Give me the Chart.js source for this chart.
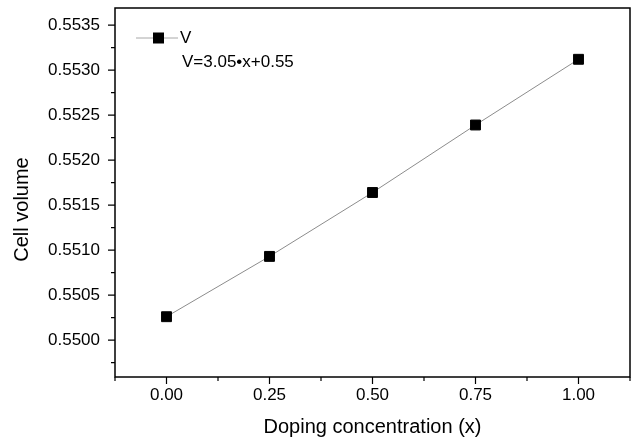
<!DOCTYPE html>
<html>
<head>
<meta charset="utf-8">
<script src="https://cdn.jsdelivr.net/npm/chart.js@4.4.1/dist/chart.umd.min.js"></script>
<style>
  html, body { margin: 0; padding: 0; background: #fff; }
  canvas { display: block; }
</style>
</head>
<body>
<canvas id="chart" width="633" height="439"></canvas>
<script>
// data
const dopingX = [0, 0.25, 0.5, 0.75, 1.0];
const cellVolume = [0.55026, 0.55093, 0.55164, 0.55239, 0.55312];

const xTicks = [0, 0.25, 0.5, 0.75, 1.0];
const xMinorTicks = [-0.125, 0.125, 0.375, 0.625, 0.875, 1.125];
const yTicks = [0.5500, 0.5505, 0.5510, 0.5515, 0.5520, 0.5525, 0.5530, 0.5535];
const yMinorTicks = [0.54975, 0.55025, 0.55075, 0.55125, 0.55175, 0.55225, 0.55275, 0.55325];

const seriesName = "V";
const fitLabel = "V=3.05\u2022x+0.55";
const xTitle = "Doping concentration (x)";
const yTitle = "Cell volume";

const fontFamily = '"Liberation Sans", Arial, sans-serif';

// frame, outside ticks, legend and y title
const originDecor = {
    id: "originDecor",
    afterDraw(chart) {
        const ctx = chart.ctx;
        const area = chart.chartArea;
        const xs = chart.scales.x;
        const ys = chart.scales.y;
        ctx.save();
        ctx.strokeStyle = "#000";
        ctx.lineWidth = 1.5;
        ctx.strokeRect(area.left, area.top, area.right - area.left, area.bottom - area.top);

        ctx.lineWidth = 1.2;
        ctx.beginPath();
        xTicks.forEach(v => {
            const px = xs.getPixelForValue(v);
            ctx.moveTo(px, area.bottom);
            ctx.lineTo(px, area.bottom + 7);
        });
        xMinorTicks.forEach(v => {
            const px = xs.getPixelForValue(v);
            ctx.moveTo(px, area.bottom);
            ctx.lineTo(px, area.bottom + 4);
        });
        yTicks.forEach(v => {
            const py = ys.getPixelForValue(v);
            ctx.moveTo(area.left, py);
            ctx.lineTo(area.left - 7, py);
        });
        yMinorTicks.forEach(v => {
            const py = ys.getPixelForValue(v);
            ctx.moveTo(area.left, py);
            ctx.lineTo(area.left - 4, py);
        });
        ctx.stroke();

        // legend
        const lx = area.left + 21;
        const ly = area.top + 30;
        ctx.strokeStyle = "#a8a8a8";
        ctx.lineWidth = 1;
        ctx.beginPath();
        ctx.moveTo(lx, ly);
        ctx.lineTo(lx + 42, ly);
        ctx.stroke();
        ctx.fillStyle = "#000";
        ctx.fillRect(lx + 17, ly - 5.5, 11, 11);
        ctx.font = "17px " + fontFamily;
        ctx.textBaseline = "middle";
        ctx.textAlign = "left";
        ctx.fillText(seriesName, lx + 44, ly);
        ctx.fillText(fitLabel, lx + 46, ly + 24);

        // y axis title sits a bit below the middle in the original
        ctx.font = "20px " + fontFamily;
        ctx.textAlign = "center";
        ctx.translate(22, (area.top + area.bottom) / 2 + 17);
        ctx.rotate(-Math.PI / 2);
        ctx.fillText(yTitle, 0, 0);
        ctx.restore();
    }
};

new Chart("chart", {
    type: "scatter",
    data: {
        datasets: [{
            label: seriesName,
            data: dopingX.map((x, i) => ({ x: x, y: cellVolume[i] })),
            showLine: true,
            borderColor: "#8c8c8c",
            borderWidth: 1,
            pointStyle: "rect",
            pointRadius: 7,
            pointHoverRadius: 7,
            pointBackgroundColor: "#000",
            pointBorderColor: "#000",
            pointBorderWidth: 1
        }]
    },
    options: {
        responsive: false,
        animation: false,
        layout: {
            autoPadding: false,
            padding: { top: 8, right: 3, left: 0, bottom: 0 }
        },
        plugins: {
            legend: { display: false },
            tooltip: { enabled: false }
        },
        scales: {
            x: {
                type: "linear",
                min: -0.125,
                max: 1.125,
                grid: { display: false, drawTicks: false },
                border: { display: false },
                afterBuildTicks: scale => { scale.ticks = xTicks.map(v => ({ value: v })); },
                afterFit: scale => {
                    scale.height = 62;
                    scale.paddingLeft = 0;
                    scale.paddingRight = 0;
                },
                ticks: {
                    padding: 8,
                    color: "#000",
                    font: { family: fontFamily, size: 17 },
                    callback: v => Number(v).toFixed(2)
                },
                title: {
                    display: true,
                    text: xTitle,
                    color: "#000",
                    font: { family: fontFamily, size: 20 },
                    padding: { top: 0, bottom: 0 }
                }
            },
            y: {
                type: "linear",
                min: 0.54959,
                max: 0.55369,
                grid: { display: false, drawTicks: false },
                border: { display: false },
                afterBuildTicks: scale => { scale.ticks = yTicks.map(v => ({ value: v })); },
                afterFit: scale => {
                    scale.width = 115;
                    scale.paddingTop = 0;
                    scale.paddingBottom = 0;
                },
                ticks: {
                    padding: 15,
                    color: "#000",
                    font: { family: fontFamily, size: 17 },
                    callback: v => Number(v).toFixed(4)
                }
            }
        }
    },
    plugins: [originDecor]
});
</script>
</body>
</html>
